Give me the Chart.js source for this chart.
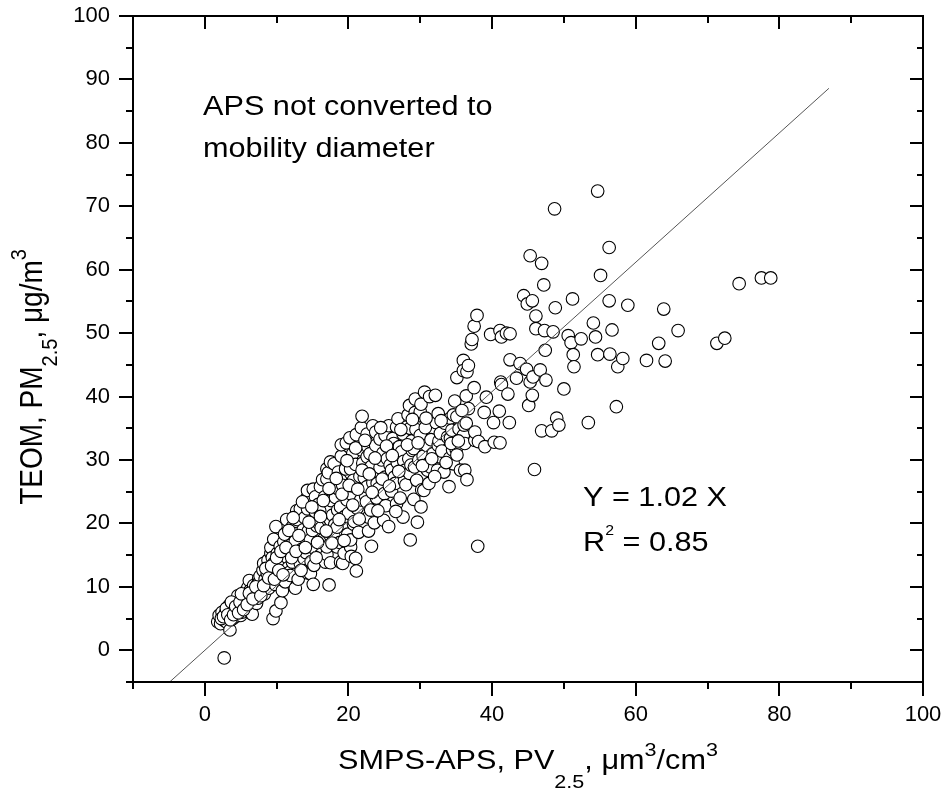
<!DOCTYPE html>
<html lang="en">
<head>
<meta charset="UTF-8">
<title>TEOM vs SMPS-APS</title>
<script src="https://cdn.jsdelivr.net/npm/chart.js"></script>
<style>
  body { margin: 0; background: #fff; }
  canvas { display: block; }
</style>
</head>
<body>
<canvas id="scatter" width="948" height="796"></canvas>
<script>
// SMPS-APS PV2.5 (um3/cm3)
const pvX = [
  2.7,1.8,2.0,2.2,2.4,2.7,2.9,3.1,3.4,3.5,
  3.4,3.8,3.9,4.1,4.2,4.4,4.5,4.6,4.8,5.0,
  5.0,5.2,5.3,5.5,5.6,5.7,5.8,6.0,6.1,6.2,
  6.3,6.4,6.5,6.6,6.6,6.8,6.9,7.0,7.2,7.3,
  7.4,7.5,7.6,7.7,7.9,8.0,8.1,8.2,8.3,8.4,
  8.6,8.7,8.8,8.9,9.1,9.2,9.2,9.3,9.4,9.5,
  9.6,9.6,9.8,9.9,9.9,9.9,10.1,10.1,10.2,10.4,
  10.5,10.6,10.7,10.8,11.0,11.0,11.1,11.2,11.4,11.5,
  11.6,11.8,11.9,11.9,12.0,12.2,12.2,12.4,12.5,12.6,
  12.6,12.8,12.9,12.9,13.0,13.3,13.3,13.3,13.5,13.7,
  13.8,13.8,13.9,14.1,14.2,14.3,14.3,14.3,14.4,14.6,
  14.7,14.7,14.8,15.0,15.1,15.1,15.2,15.3,15.4,15.4,
  15.6,15.8,15.9,16.0,16.1,16.2,16.3,16.4,16.6,16.7,
  16.8,17.0,17.0,17.0,17.0,17.1,17.2,17.3,17.4,17.5,
  17.5,17.5,17.6,17.8,18.0,18.0,18.1,18.2,18.4,18.4,
  18.5,18.5,18.6,18.8,18.9,18.9,18.9,19.0,19.0,19.2,
  19.2,19.4,19.5,19.6,19.7,19.8,19.9,20.0,20.2,20.3,
  20.3,20.3,20.3,20.4,20.5,20.6,20.7,20.7,20.8,21.0,
  21.0,21.1,21.1,21.2,21.4,21.6,21.7,21.8,21.8,21.9,
  22.0,22.2,22.4,22.5,22.6,22.6,22.6,22.7,22.8,22.8,
  23.0,23.1,23.2,23.2,23.4,23.4,23.6,23.8,23.8,23.9,
  24.0,24.2,24.4,24.4,24.6,24.8,24.9,25.0,25.1,25.1,
  25.2,25.4,25.6,25.6,25.8,26.0,26.0,26.2,26.3,26.4,
  26.5,26.7,26.7,26.7,26.8,26.9,27.1,27.2,27.4,27.6,
  27.6,27.7,27.8,27.9,28.0,28.1,28.3,28.4,28.5,28.5,
  28.6,28.6,28.7,28.8,28.9,29.1,29.1,29.2,29.3,29.3,
  29.4,29.5,29.6,29.8,29.9,30.0,30.0,30.1,30.1,30.2,
  30.4,30.5,30.6,30.7,30.9,31.0,31.2,31.2,31.3,31.4,
  31.5,31.8,32.1,32.2,32.4,32.5,32.5,32.6,32.8,32.8,
  33.0,33.3,33.4,33.8,34.0,34.1,34.2,34.2,34.4,34.5,
  34.6,34.6,34.8,35.0,35.1,35.1,35.1,35.4,35.6,36.0,
  36.0,36.0,36.1,36.2,36.2,36.4,36.4,36.5,36.5,36.7,
  36.7,37.1,37.2,37.5,37.5,37.6,37.6,37.9,38.0,38.1,
  38.9,39.0,39.2,39.8,40.2,40.3,41.0,41.1,41.1,41.2,
  41.3,41.3,42.0,42.2,42.4,42.5,42.5,43.4,43.9,44.4,
  44.8,44.9,45.1,45.3,45.3,45.6,45.6,45.7,45.9,46.1,
  46.1,46.7,46.9,46.9,47.2,47.3,47.4,47.5,48.3,48.5,
  48.7,48.8,49.0,49.3,50.0,50.6,51.0,51.2,51.3,51.4,
  52.4,53.4,54.1,54.4,54.7,54.7,55.1,56.3,56.3,56.4,
  56.7,57.3,57.5,58.2,58.9,61.5,63.2,63.9,64.1,65.9,
  71.3,72.4,74.4,77.5,78.8,
  2.3,2.6,3.0,3.2,3.6,3.7,4.0,4.3,4.7,4.9,
  5.1,5.4,5.9,6.2,6.7,7.1,7.8,8.2,8.5,8.9,
  9.3,9.7,10.0,10.3,10.6,10.9,11.3,11.7,12.1,12.3,
  12.7,13.1,13.4,13.6,14.0,14.5,14.9,15.5,15.7,16.1,
  16.5,16.9,17.3,17.7,18.3,18.7,19.1,19.4,19.8,20.1,
  20.6,21.0,21.3,21.5,21.9,22.3,22.9,23.3,23.7,24.1,
  24.5,24.7,25.3,25.7,26.1,26.6,27.0,27.3,28.2,28.9,
  29.7,30.3,30.8,31.6,32.0,32.9,33.6,34.3,35.3,35.8
];
// TEOM PM2.5 (ug/m3), same order
const teomY = [
  -1.2,4.5,5.5,4.2,6.0,4.7,5.9,4.4,5.3,3.2,
  7.1,6.4,5.0,7.3,6.1,5.4,7.9,8.6,6.8,5.5,
  7.0,6.0,7.4,8.4,9.2,7.8,6.5,9.9,8.1,11.0,
  9.4,6.6,5.8,7.2,5.7,10.2,8.6,9.0,7.4,10.3,
  8.2,11.3,10.8,11.7,9.8,9.2,12.6,13.7,8.9,11.2,
  10.6,12.1,14.2,9.8,12.9,15.3,16.2,11.5,14.6,5.0,
  13.7,17.5,10.4,6.2,12.6,19.5,15.3,13.2,11.9,14.1,
  16.4,7.5,13.3,9.4,17.1,15.3,18.3,10.8,20.6,14.6,
  13.0,12.3,11.8,15.3,16.6,19.5,13.9,16.3,18.4,9.8,
  17.2,22.0,14.7,20.6,11.2,13.7,21.4,22.3,15.9,19.0,
  14.5,17.9,20.9,15.4,24.0,12.2,25.2,22.3,18.8,16.7,
  12.1,17.4,14.0,18.9,10.4,25.4,13.4,16.0,21.8,24.2,
  19.6,23.0,20.0,22.0,25.8,19.3,15.2,26.9,17.6,24.2,
  13.9,15.1,16.3,27.0,28.6,20.6,28.0,10.3,18.2,13.8,
  20.5,29.7,23.6,21.3,17.9,29.4,19.8,24.1,16.3,19.4,
  25.5,22.1,28.1,17.0,13.9,22.6,26.8,30.6,32.4,26.0,
  13.7,15.3,21.1,28.6,32.7,23.7,18.3,21.6,33.5,16.3,
  17.4,24.7,28.6,14.8,25.9,31.0,19.9,26.8,20.3,14.5,
  29.3,12.5,34.0,22.4,18.6,27.4,23.7,31.6,35.1,36.9,
  29.5,27.2,24.3,23.4,25.8,30.5,34.1,32.1,18.8,21.0,
  31.0,22.1,16.4,29.0,35.4,26.4,20.1,32.3,34.4,24.0,
  26.3,25.5,28.8,33.3,30.0,31.1,20.5,24.7,27.3,33.9,
  22.8,30.2,19.5,35.4,29.2,25.1,28.4,33.4,32.6,27.3,
  26.3,23.1,31.8,35.2,29.6,36.5,32.1,24.0,31.3,21.0,
  34.1,29.8,26.7,28.4,26.1,35.2,37.1,30.2,27.9,38.6,
  17.4,35.0,29.2,33.0,31.5,23.8,31.8,28.9,37.5,39.6,
  34.8,26.8,20.2,30.0,37.0,33.9,37.6,22.6,38.8,25.3,
  30.6,25.2,40.7,35.1,32.3,28.4,26.3,29.5,40.0,28.9,
  33.2,31.0,40.2,35.9,28.4,32.3,37.3,33.0,30.5,34.2,
  31.4,28.1,35.8,33.6,25.8,30.3,33.4,36.6,34.7,31.6,
  29.4,37.1,39.3,31.7,30.8,36.8,43.0,34.9,28.4,33.9,
  45.7,44.1,35.5,32.6,28.4,40.1,35.8,26.9,43.9,44.9,
  38.1,48.3,49.0,41.4,51.1,33.1,34.4,52.8,16.4,32.9,
  37.5,32.1,39.9,49.8,35.9,32.8,37.7,50.4,32.7,42.3,
  49.4,41.9,50.0,40.4,35.9,49.9,45.8,42.9,45.2,55.9,
  44.3,54.6,38.6,62.2,42.3,55.1,40.2,43.1,28.5,52.7,
  50.7,44.2,61.0,34.6,57.6,50.4,47.3,42.6,34.6,50.2,
  69.6,54.0,36.6,35.5,41.2,49.6,48.5,55.4,46.6,44.7,
  49.1,35.9,51.6,49.4,72.4,46.6,59.1,55.1,63.5,46.7,
  50.5,38.4,44.7,46.0,54.4,45.7,48.4,53.8,45.6,50.4,
  48.4,49.2,57.8,58.7,58.7,
  5.0,5.3,6.6,5.6,4.8,7.6,5.6,6.9,5.9,7.6,
  8.9,6.4,7.2,9.0,8.1,10.0,8.6,10.2,12.9,11.4,
  13.3,11.2,14.6,12.6,15.6,11.9,16.2,18.9,14.6,20.9,
  15.6,18.1,12.6,23.4,16.2,20.2,22.6,14.6,17.0,21.1,
  23.6,18.8,25.5,16.9,27.1,20.6,24.6,17.3,29.9,26.0,
  22.9,31.9,25.4,20.7,28.4,33.1,27.8,24.9,30.3,22.0,
  35.1,27.0,32.2,25.9,30.7,21.9,28.2,34.8,32.4,36.4,
  32.7,29.1,36.6,30.2,27.4,36.2,29.6,32.6,33.0,37.8
];

// fitted line Y = 1.02 X, end points
const fitX = [-4.9, 86.9];
const fitY = [-5.0, 88.6];

const xTicks = [0, 20, 40, 60, 80, 100];
const xMinor = [-10, 10, 30, 50, 70, 90];
const yTicks = [0, 10, 20, 30, 40, 50, 60, 70, 80, 90, 100];
const yMinor = [-5, 5, 15, 25, 35, 45, 55, 65, 75, 85, 95];

const FONT = '"Liberation Sans", Arial, Helvetica, sans-serif';
const SX = 1.135; // the source figure is stretched a little horizontally

Chart.defaults.font.family = FONT;
Chart.defaults.color = '#000';

// draw a run of text pieces (sub/superscripts) at the current origin, baseline 0
function drawParts(ctx, parts, align) {
  let w = 0;
  for (const p of parts) {
    ctx.font = p.size + 'px ' + FONT;
    p.w = ctx.measureText(p.t).width;
    w += p.w;
  }
  let cx = align === 'center' ? -w / 2 : 0;
  for (const p of parts) {
    ctx.font = p.size + 'px ' + FONT;
    ctx.fillText(p.t, cx, p.dy || 0);
    cx += p.w;
  }
}

function textAt(ctx, parts, x, y, align) {
  ctx.save();
  ctx.translate(x, y);
  ctx.scale(SX, 1);
  drawParts(ctx, parts, align);
  ctx.restore();
}

// no extra room for the outer tick labels, the layout padding handles it
function noPad(s) {
  s.paddingTop = 0;
  s.paddingBottom = 0;
  s.paddingLeft = 0;
  s.paddingRight = 0;
}

const framePlugin = {
  id: 'frame',
  afterDatasetsDraw(chart) {
    const { ctx, chartArea: a, scales: { x, y } } = chart;
    ctx.save();
    ctx.strokeStyle = '#000';
    ctx.lineWidth = 2;
    ctx.strokeRect(a.left, a.top, a.right - a.left, a.bottom - a.top);
    ctx.beginPath();
    xTicks.concat(xMinor).forEach(v => {
      const major = xTicks.includes(v);
      const px = Math.round(x.getPixelForValue(v));
      ctx.moveTo(px, a.bottom);
      ctx.lineTo(px, a.bottom + (major ? 14 : 7));
      ctx.moveTo(px, a.top);
      ctx.lineTo(px, a.top + (major ? 13 : 7));
    });
    yTicks.concat(yMinor).forEach(v => {
      const major = yTicks.includes(v);
      const py = Math.round(y.getPixelForValue(v));
      ctx.moveTo(a.left, py);
      ctx.lineTo(a.left - (major ? 14 : 7), py);
      ctx.moveTo(a.right, py);
      ctx.lineTo(a.right - (major ? 13 : 6), py);
    });
    ctx.stroke();
    ctx.restore();
  },
  afterDraw(chart) {
    const { ctx, chartArea: a } = chart;
    ctx.save();
    ctx.fillStyle = '#000';
    ctx.textBaseline = 'alphabetic';

    // x axis title
    textAt(ctx, [
      { t: 'SMPS-APS, PV', size: 27 },
      { t: '2.5', size: 19, dy: 19 },
      { t: ', \u03bcm', size: 27 },
      { t: '3', size: 19, dy: -13 },
      { t: '/cm', size: 27 },
      { t: '3', size: 19, dy: -13 }
    ], (a.left + a.right) / 2, 769, 'center');

    // y axis title, rotated
    ctx.save();
    ctx.translate(42, 377);
    ctx.scale(SX, 1);
    ctx.rotate(-Math.PI / 2);
    drawParts(ctx, [
      { t: 'TEOM, PM', size: 28 },
      { t: '2.5', size: 20, dy: 13 },
      { t: ', \u03bcg/m', size: 28 },
      { t: '3', size: 20, dy: -14 }
    ], 'center');
    ctx.restore();

    // notes
    textAt(ctx, [{ t: 'APS not converted to', size: 27 }], 203, 115);
    textAt(ctx, [{ t: 'mobility diameter', size: 27 }], 203, 157);
    textAt(ctx, [{ t: 'Y = 1.02 X', size: 27 }], 583, 506);
    textAt(ctx, [
      { t: 'R', size: 27 },
      { t: '2', size: 14, dy: -16 },
      { t: ' = 0.85', size: 27 }
    ], 583, 551);
    ctx.restore();
  }
};

const points = pvX.map((v, i) => ({ x: v, y: teomY[i] }));
const fitLine = fitX.map((v, i) => ({ x: v, y: fitY[i] }));

new Chart(document.getElementById('scatter'), {
  type: 'scatter',
  data: {
    datasets: [
      {
        data: fitLine,
        showLine: true,
        borderColor: '#555',
        borderWidth: 1,
        pointRadius: 0,
        order: 0
      },
      {
        data: points,
        pointRadius: 6.3,
        pointBorderWidth: 1.1,
        pointBackgroundColor: '#fff',
        pointBorderColor: '#000',
        order: 1
      }
    ]
  },
  options: {
    responsive: false,
    animation: false,
    layout: { padding: { top: 16, right: 25, left: 0, bottom: 0 } },
    plugins: { legend: { display: false }, tooltip: { enabled: false } },
    scales: {
      x: {
        type: 'linear',
        min: -10,
        max: 100,
        afterBuildTicks: s => { s.ticks = xTicks.map(v => ({ value: v })); },
        afterFit: s => { s.height = 114; noPad(s); },
        grid: { display: false, drawTicks: false },
        border: { display: false },
        ticks: { autoSkip: false, maxRotation: 0, padding: 20, font: { size: 22 }, color: '#000' }
      },
      y: {
        type: 'linear',
        min: -5,
        max: 100,
        afterBuildTicks: s => { s.ticks = yTicks.map(v => ({ value: v })); },
        afterFit: s => { s.width = 133; noPad(s); },
        grid: { display: false, drawTicks: false },
        border: { display: false },
        ticks: { autoSkip: false, padding: 23, font: { size: 22 }, color: '#000' }
      }
    }
  },
  plugins: [framePlugin]
});
</script>
</body>
</html>
